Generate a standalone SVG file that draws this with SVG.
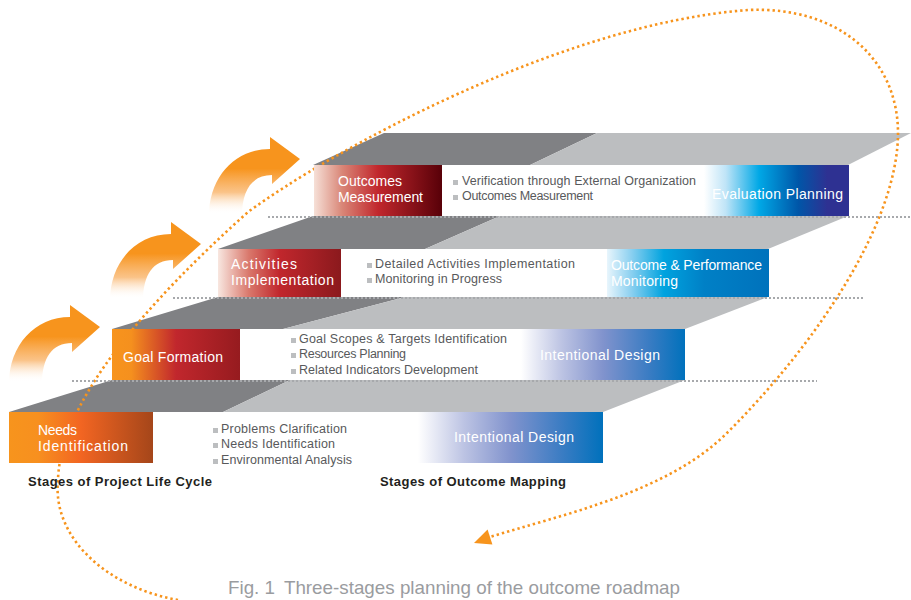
<svg xmlns="http://www.w3.org/2000/svg" xmlns:xlink="http://www.w3.org/1999/xlink" width="911" height="600" viewBox="0 0 911 600">
  <style>
    .dark { fill: #808184; }
    .light { fill: #bcbec0; }
    .rule { fill: none; stroke: #a7a9ac; stroke-width: 2; stroke-dasharray: 2 2; }
    .loop { fill: none; stroke: #f7941d; stroke-width: 2.6; stroke-dasharray: 2.4 3; }
    .box-label { font-family: "Liberation Sans", Arial, sans-serif; font-size: 14px; fill: #ffffff; }
    .item { font-family: "Liberation Sans", Arial, sans-serif; font-size: 12.5px; fill: #58595b; }
    .mark { fill: #bcbec0; }
    .stage { font-family: "Liberation Sans", Arial, sans-serif; font-size: 13px; font-weight: bold; fill: #231f20; }
    .caption { font-family: "Liberation Sans", Arial, sans-serif; font-size: 19px; fill: #9a9c9f; }
  </style>
  <defs>
    <linearGradient id="gNeeds" x1="0" y1="0" x2="1" y2="0">
      <stop offset="0" stop-color="#f7941d"/>
      <stop offset="0.2" stop-color="#f7901f"/>
      <stop offset="0.5" stop-color="#f26522"/>
      <stop offset="1" stop-color="#a5461a"/>
    </linearGradient>
    <linearGradient id="gGoal" x1="0" y1="0" x2="1" y2="0">
      <stop offset="0" stop-color="#f7941d"/>
      <stop offset="0.15" stop-color="#f5901e"/>
      <stop offset="0.5" stop-color="#c1272d"/>
      <stop offset="1" stop-color="#961b1f"/>
    </linearGradient>
    <linearGradient id="gActivities" x1="0" y1="0" x2="1" y2="0">
      <stop offset="0" stop-color="#f8e7e0"/>
      <stop offset="0.25" stop-color="#d9786c"/>
      <stop offset="0.5" stop-color="#c1272d"/>
      <stop offset="1" stop-color="#8b191d"/>
    </linearGradient>
    <linearGradient id="gOutcomes" x1="0" y1="0" x2="1" y2="0">
      <stop offset="0" stop-color="#f6e0d7"/>
      <stop offset="0.22" stop-color="#d98677"/>
      <stop offset="0.5" stop-color="#c1272d"/>
      <stop offset="1" stop-color="#580008"/>
    </linearGradient>
    <linearGradient id="gIntent" x1="0" y1="0" x2="1" y2="0">
      <stop offset="0" stop-color="#ffffff"/>
      <stop offset="0.25" stop-color="#bcc3e3"/>
      <stop offset="0.5" stop-color="#8193cd"/>
      <stop offset="0.78" stop-color="#3a7cc3"/>
      <stop offset="1" stop-color="#0071bc"/>
    </linearGradient>
    <linearGradient id="gMonitor" x1="0" y1="0" x2="1" y2="0">
      <stop offset="0" stop-color="#e8f5fc"/>
      <stop offset="0.15" stop-color="#8bd0f0"/>
      <stop offset="0.35" stop-color="#00a3df"/>
      <stop offset="0.6" stop-color="#0080c6"/>
      <stop offset="1" stop-color="#0072bc"/>
    </linearGradient>
    <linearGradient id="gEval" x1="0" y1="0" x2="1" y2="0">
      <stop offset="0" stop-color="#ffffff"/>
      <stop offset="0.15" stop-color="#bfe4f7"/>
      <stop offset="0.38" stop-color="#00a8e6"/>
      <stop offset="0.65" stop-color="#0056a8"/>
      <stop offset="0.85" stop-color="#2e3192"/>
      <stop offset="1" stop-color="#2e3192"/>
    </linearGradient>
    <linearGradient id="gArrow" x1="0" y1="0" x2="0" y2="1">
      <stop offset="0" stop-color="#f7941d"/>
      <stop offset="0.4" stop-color="#f7941d"/>
      <stop offset="0.7" stop-color="#f9b46a" stop-opacity="0.8"/>
      <stop offset="0.97" stop-color="#ffffff" stop-opacity="0"/>
    </linearGradient>
    <path id="turnArrow" d="M 9,384 C 9,345 35,317 70,317 L 70,305 L 100,327 L 72,352 L 72,343 C 52,343 42,358 42,384 Z" fill="url(#gArrow)"/>
  </defs>

  <rect width="911" height="600" fill="#ffffff"/>

  <!-- stair treads, bottom to top -->
  <g id="treads">
    <polygon class="dark" points="9,412 112,380 290,380 223,412"/>
    <polygon class="light" points="223,412 290,380 685,380 603,412"/>
    <polygon class="dark" points="112,329 218,297 405,297 283,329"/>
    <polygon class="light" points="283,329 405,297 768,297 685,329"/>
    <polygon class="dark" points="218,249 313,216 500,216 425,249"/>
    <polygon class="light" points="425,249 500,216 848,216 768,249"/>
    <polygon class="dark" points="313,165 384,133 597,133 530,165"/>
    <polygon class="light" points="530,165 597,133 911,133 848,165"/>
  </g>

  <!-- curved step-up arrows -->
  <g id="step-arrows">
    <use xlink:href="#turnArrow"/>
    <use xlink:href="#turnArrow" transform="translate(101,-83)"/>
    <use xlink:href="#turnArrow" transform="translate(200,-168)"/>
  </g>

  <!-- connectors: the feedback loop and the riser rules -->
  <g id="connectors">
    <path class="loop" d="M 178,600 C 110,588 52,540 58,480 C 60,400 150,300 248,212 C 330,152 560,24 748,10 C 840,6 898,60 898,133 C 898,220 820,340 727,433 C 667,493 560,515 490,537"/>
    <polygon points="474,543 487.6,529.4 492.4,544.6" fill="#f7941d"/>
    <line class="rule" x1="268" y1="217" x2="911" y2="217"/>
    <line class="rule" x1="173" y1="298" x2="863" y2="298"/>
    <line class="rule" x1="72" y1="381" x2="817" y2="381"/>
  </g>

  <!-- step 1 -->
  <g id="needs-identification">
    <rect x="9" y="412" width="144" height="51" fill="url(#gNeeds)"/>
    <text class="box-label" x="38" y="435" textLength="39">Needs</text>
    <text class="box-label" x="38" y="451" textLength="90">Identification</text>
  </g>
  <g id="needs-items">
    <rect class="mark" x="213" y="428" width="5" height="5"/>
    <text class="item" x="221" y="433" textLength="126">Problems Clarification</text>
    <rect class="mark" x="213" y="443" width="5" height="5"/>
    <text class="item" x="221" y="448" textLength="114">Needs Identification</text>
    <rect class="mark" x="213" y="459" width="5" height="5"/>
    <text class="item" x="221" y="464" textLength="131">Environmental Analysis</text>
  </g>
  <g id="intentional-design-1">
    <rect x="418" y="412" width="185" height="51" fill="url(#gIntent)"/>
    <text class="box-label" x="454" y="442" textLength="120">Intentional Design</text>
  </g>

  <!-- step 2 -->
  <g id="goal-formation">
    <rect x="112" y="329" width="128" height="51" fill="url(#gGoal)"/>
    <text class="box-label" x="123" y="362" textLength="100">Goal Formation</text>
  </g>
  <g id="goal-items">
    <rect class="mark" x="291" y="338" width="5" height="5"/>
    <text class="item" x="299" y="343" textLength="208">Goal Scopes &amp; Targets Identification</text>
    <rect class="mark" x="291" y="353" width="5" height="5"/>
    <text class="item" x="299" y="358" textLength="107">Resources Planning</text>
    <rect class="mark" x="291" y="369" width="5" height="5"/>
    <text class="item" x="299" y="374" textLength="179">Related Indicators Development</text>
  </g>
  <g id="intentional-design-2">
    <rect x="521" y="329" width="164" height="51" fill="url(#gIntent)"/>
    <text class="box-label" x="540" y="360" textLength="120">Intentional Design</text>
  </g>

  <!-- step 3 -->
  <g id="activities-implementation">
    <rect x="218" y="249" width="123" height="48" fill="url(#gActivities)"/>
    <text class="box-label" x="231" y="269" textLength="66">Activities</text>
    <text class="box-label" x="231" y="285" textLength="103">Implementation</text>
  </g>
  <g id="activities-items">
    <rect class="mark" x="367" y="263" width="5" height="5"/>
    <text class="item" x="375" y="268" textLength="200">Detailed Activities Implementation</text>
    <rect class="mark" x="367" y="278" width="5" height="5"/>
    <text class="item" x="375" y="283" textLength="127">Monitoring in Progress</text>
  </g>
  <g id="outcome-performance-monitoring">
    <rect x="607" y="249" width="162" height="48" fill="url(#gMonitor)"/>
    <text class="box-label" x="611" y="270" textLength="151">Outcome &amp; Performance</text>
    <text class="box-label" x="611" y="286" textLength="67">Monitoring</text>
  </g>

  <!-- step 4 -->
  <g id="outcomes-measurement">
    <rect x="314" y="165" width="128" height="51" fill="url(#gOutcomes)"/>
    <text class="box-label" x="338" y="186" textLength="64">Outcomes</text>
    <text class="box-label" x="338" y="202" textLength="85">Measurement</text>
  </g>
  <g id="outcomes-items">
    <rect class="mark" x="453" y="180" width="5" height="5"/>
    <text class="item" x="462" y="185" textLength="234">Verification through External Organization</text>
    <rect class="mark" x="453" y="195" width="5" height="5"/>
    <text class="item" x="462" y="200" textLength="131">Outcomes Measurement</text>
  </g>
  <g id="evaluation-planning">
    <rect x="704" y="165" width="145" height="51" fill="url(#gEval)"/>
    <text class="box-label" x="712" y="199" textLength="131">Evaluation Planning</text>
  </g>

  <!-- column titles and caption -->
  <g id="titles">
    <text class="stage" x="28" y="486" textLength="184">Stages of Project Life Cycle</text>
    <text class="stage" x="380" y="486" textLength="186">Stages of Outcome Mapping</text>
    <text class="caption" x="228" y="594" textLength="452" lengthAdjust="spacingAndGlyphs">Fig. 1<tspan dx="9">Three-stages planning of the outcome roadmap</tspan></text>
  </g>
</svg>
